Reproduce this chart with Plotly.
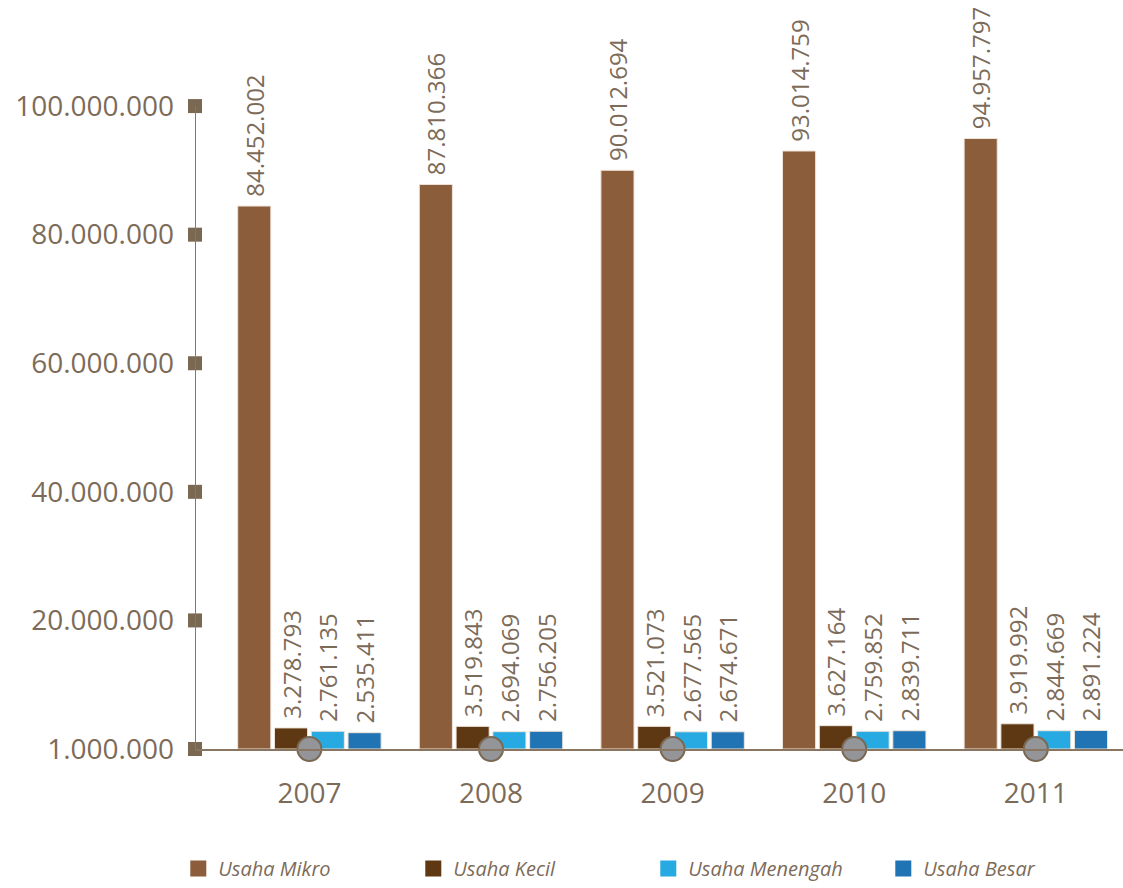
import plotly.graph_objects as go

years = ["2007", "2008", "2009", "2010", "2011"]
usaha_mikro = [84452002, 87810366, 90012694, 93014759, 94957797]
usaha_kecil = [3278793, 3519843, 3521073, 3627164, 3919992]
usaha_menengah = [2761135, 2694069, 2677565, 2759852, 2844669]
usaha_besar = [2535411, 2756205, 2674671, 2839711, 2891224]
series_names = ["Usaha Mikro", "Usaha Kecil", "Usaha Menengah", "Usaha Besar"]
series_colors = ["#8B5D3B", "#5E3813", "#27A9E1", "#2174B4"]
ytick_vals = [0, 20000000, 40000000, 60000000, 80000000, 100000000]
ytick_text = ["1.000.000", "20.000.000", "40.000.000", "60.000.000", "80.000.000", "100.000.000"]

TXT = "#7d6b59"
AX = "#8a7660"

def fmt(v):
    return "\u00a0" + f"{v:,}".replace(",", ".")

xs = list(range(len(years)))
fig = go.Figure()
for name, vals, col in zip(series_names, [usaha_mikro, usaha_kecil, usaha_menengah, usaha_besar], series_colors):
    fig.add_trace(go.Bar(
        x=xs, y=vals, name=name, legendgroup=name, showlegend=False,
        marker=dict(color=col, line=dict(color="#efe4da", width=1)),
        text=[fmt(v) for v in vals], textposition="outside", textangle=-90,
        constraintext="none", cliponaxis=False,
        textfont=dict(family="Open Sans", size=24, color=TXT),
    ))
# legend entries (square swatches)
for name, col in zip(series_names, series_colors):
    fig.add_trace(go.Scatter(
        x=[None], y=[None], mode="markers", name=f"<i>{name}</i>", legendgroup=name,
        marker=dict(symbol="square", size=16, color=col), showlegend=True,
    ))

xmin, xmax = -0.63, 4.48
# y-axis line
fig.add_shape(type="line", xref="x", yref="y", x0=xmin, x1=xmin, y0=0, y1=100000000,
              line=dict(color=AX, width=2))
# tick squares on y axis
fig.add_trace(go.Scatter(x=[xmin]*len(ytick_vals), y=ytick_vals, mode="markers",
                         marker=dict(symbol="square", size=14, color="#7b6853"),
                         cliponaxis=False, showlegend=False, hoverinfo="skip"))
# circles on x axis
fig.add_trace(go.Scatter(x=xs, y=[0]*len(xs), mode="markers",
                         marker=dict(symbol="circle", size=24, color="#939598",
                                     line=dict(color="#7b6853", width=2)),
                         cliponaxis=False, showlegend=False, hoverinfo="skip"))

fig.update_layout(
    width=1123, height=888,
    margin=dict(l=195, r=0, t=0, b=138),
    plot_bgcolor="white", paper_bgcolor="white",
    barmode="group", bargap=0.19, bargroupgap=0.1,
    font=dict(family="Open Sans", color=TXT),
    legend=dict(orientation="h", x=-0.018, xanchor="left", y=-0.16, yanchor="middle",
                entrywidth=190, entrywidthmode="pixels", itemsizing="trace",
                font=dict(family="Open Sans", size=20, color=TXT)),
    xaxis=dict(range=[xmin, xmax], tickvals=xs, ticktext=years, showgrid=False,
               zeroline=False, showline=True, linecolor=AX, linewidth=2,
               ticks="", ticklabelstandoff=18,
               tickfont=dict(family="Open Sans", size=28, color=TXT)),
    yaxis=dict(range=[0, 116500000], tickvals=ytick_vals, ticktext=ytick_text,
               showgrid=False, zeroline=False, showline=False,
               ticks="", ticklabelstandoff=20,
               tickfont=dict(family="Open Sans", size=28, color=TXT)),
)

fig.write_html("out.html")
